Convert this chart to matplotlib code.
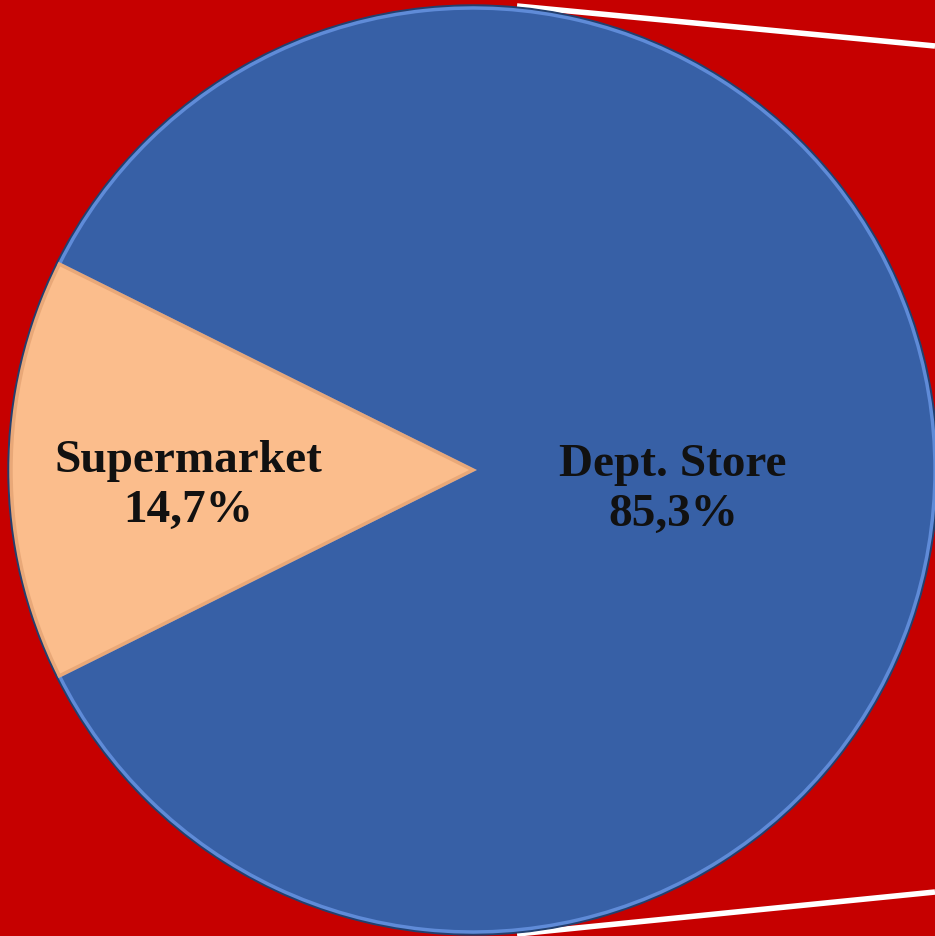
import matplotlib.pyplot as plt
from matplotlib.patches import Circle

# Data
labels = ['Supermarket', 'Dept. Store']
shares = [14.7, 85.3]
share_text = ['14,7%', '85,3%']
colors = ['#FBBD8C', '#3760A6']
edge_colors = ['#E9A878', '#5F8BD8']

W, H = 935, 937
fig = plt.figure(figsize=(W / 100, H / 100), dpi=100)
fig.patch.set_facecolor('#C60000')
ax = fig.add_axes([0, 0, 1, 1])

# white lines
ax.plot([517, 935], [H - 7, H - 47], color='white', lw=4, zorder=1, solid_capstyle='butt')
ax.plot([517, 935], [H - 935, H - 893], color='white', lw=4, zorder=1, solid_capstyle='butt')

cx, cy, r = 473, H - 471, 463

# dark rim
ax.add_patch(Circle((cx, cy), r + 2, color='#22406F', zorder=2))

wedges, _ = ax.pie(shares, colors=colors, startangle=180 - shares[0] / 100 * 180,
                   counterclock=True, center=(cx, cy), radius=r - 1,
                   wedgeprops=dict(linewidth=2.5), frame=True)
for w, ec in zip(wedges, edge_colors):
    w.set_zorder(3)
    w.set_edgecolor(ec)
wedges[0].set_zorder(4)
ax.set_xlim(0, W)
ax.set_ylim(0, H)
ax.set_aspect('equal')
ax.axis('off')

font = dict(family=['Liberation Serif', 'DejaVu Serif'], fontweight='bold', fontsize=34,
            color='#111111', ha='center', va='center', linespacing=1.22, zorder=5)
ax.text(188, H - 486, labels[0] + '\n' + share_text[0], **font)
ax.text(673, H - 490, labels[1] + '\n' + share_text[1], **font)

fig.savefig('out.png', dpi=100, facecolor=fig.get_facecolor())
